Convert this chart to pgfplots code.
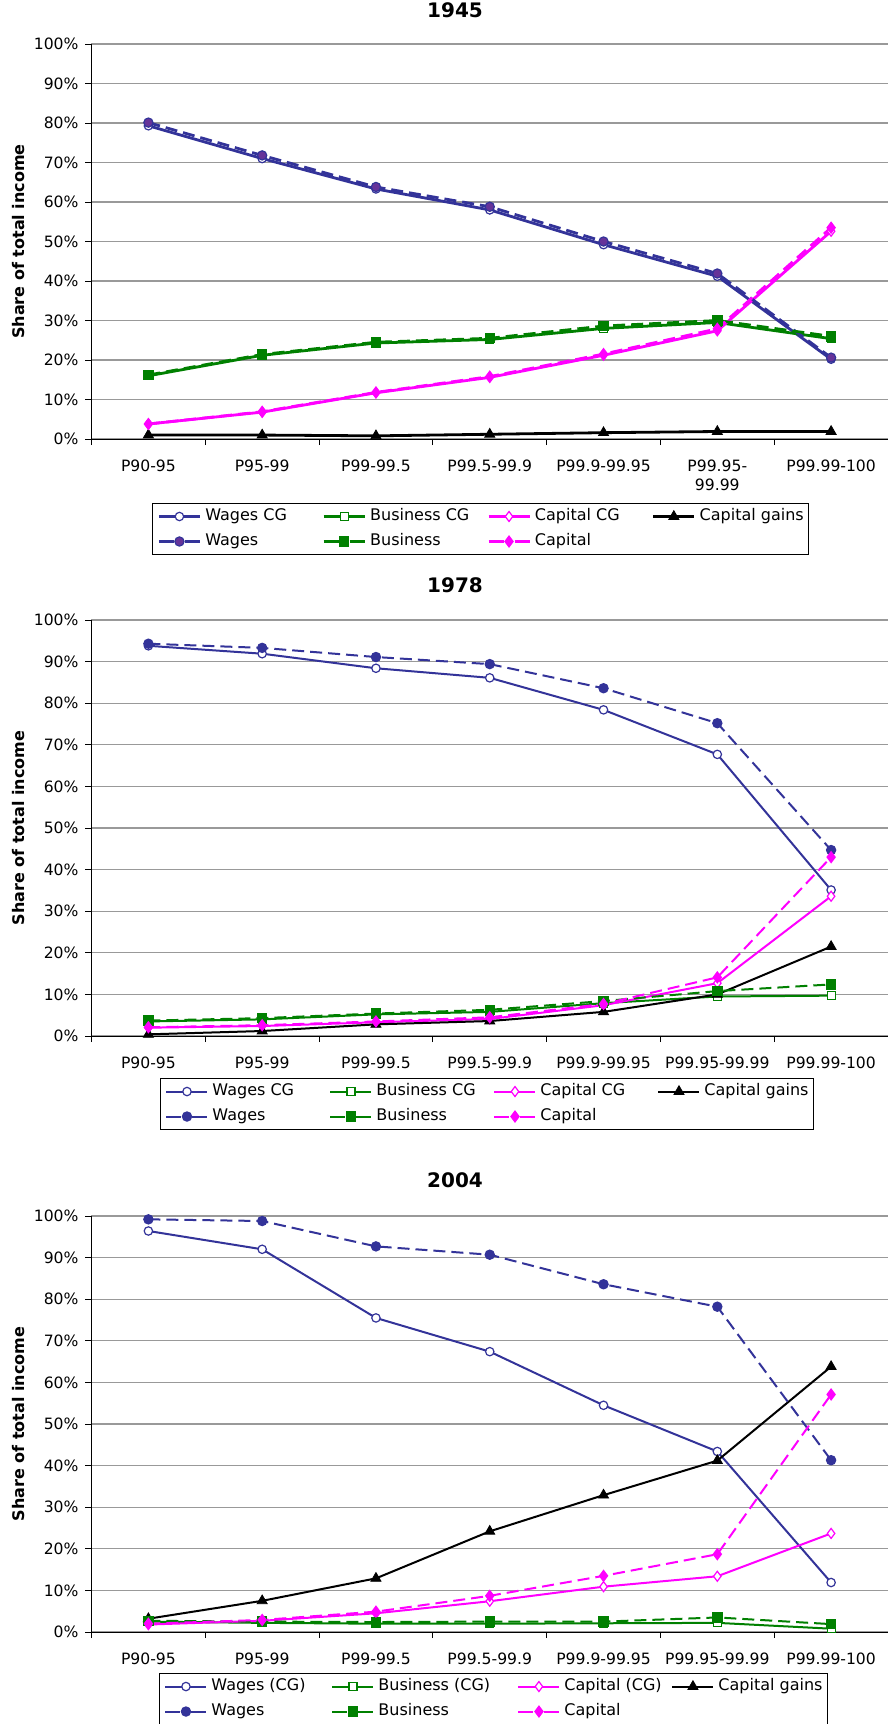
\documentclass[border=0pt]{standalone}
\usepackage{fontspec}
\setmainfont{DejaVu Sans}
\usepackage{pgfplots}
\pgfplotsset{compat=1.18}
\definecolor{wcol}{HTML}{333399}
\definecolor{wfillA}{HTML}{663399}
\definecolor{bcol}{HTML}{008000}
\definecolor{ccol}{HTML}{FF00FF}
\newcommand{\lw}{1.4pt}
\newcommand{\wfill}{wfillA}
\pgfplotsset{
 myaxis/.style={
  scale only axis, width=398.25pt, anchor=south west,
  xmin=-0.5, xmax=6.5, ymin=0, ymax=100,
  axis x line*=bottom, axis y line*=left,
  axis line style={black, line width=0.5pt, -},
  xtick={0,...,6}, minor xtick={-0.5,0.5,...,6.5},
  ytick={0,10,...,100},
  yticklabels={0\%,10\%,20\%,30\%,40\%,50\%,60\%,70\%,80\%,90\%,100\%},
  tick align=outside,
  major tick length=3pt, minor tick length=3pt,
  major x tick style={draw=none},
  tick style={black, line width=0.5pt},
  ymajorgrids, grid style={black!40, line width=0.6pt},
  tick label style={font=\fontsize{7.8pt}{9.4pt}\selectfont, black},
  xticklabel style={align=center, yshift=-4pt},
  ylabel={Share of total income},
  ylabel style={font=\bfseries\fontsize{8pt}{9.5pt}\selectfont, at={(axis description cs:-0.091,0.5)}, anchor=center},
  title style={font=\bfseries\fontsize{10pt}{12pt}\selectfont, at={(axis description cs:0.4564,1)}, anchor=center, yshift=11pt},
  clip=false,
  legend columns=4,
  legend cell align=left,
  legend style={draw=black, line width=0.5pt, font=\fontsize{8pt}{10pt}\selectfont, anchor=north west,
    inner xsep=2.5pt, inner ysep=2.5pt,
    nodes={inner sep=0pt, text height=6.2pt, text depth=1.8pt},
    row sep=4.5pt,
    /tikz/every odd column/.style={column sep=2pt},
    /tikz/every even column/.style={column sep=0pt}},
  legend image code/.code={\draw[mark repeat=2,mark phase=2,##1] plot coordinates {(0pt,0pt) (10.25pt,0pt) (20.5pt,0pt)};},
 },
 dashleg/.style={legend image code/.code={\draw[mark repeat=2,mark phase=2,##1, dash pattern=on 7.5pt off 5.5pt] plot coordinates {(0pt,0pt) (10.25pt,0pt) (20.5pt,0pt)};}},
 wcg/.style={color=wcol, solid, line width=\lw, mark=*, mark size=2.1pt, mark options={solid, fill=white, draw=wcol, line width=0.6pt}},
 wg/.style={color=wcol, line width=\lw, dash pattern=on 6pt off 3pt, mark=*, mark size=2.3pt, mark options={solid, fill=\wfill, draw=wcol, line width=0.6pt}, dashleg},
 bcg/.style={color=bcol, solid, line width=\lw, mark=square*, mark size=2pt, mark options={solid, fill=white, draw=bcol, line width=0.6pt}},
 bg/.style={color=bcol, line width=\lw, dash pattern=on 6pt off 3pt, mark=square*, mark size=2.3pt, mark options={solid, fill=bcol, draw=bcol, line width=0.6pt}, dashleg},
 ccg/.style={color=ccol, solid, line width=\lw, mark=diamond*, mark size=2.5pt, mark options={solid, fill=white, draw=ccol, line width=0.6pt}},
 cg/.style={color=ccol, line width=\lw, dash pattern=on 6pt off 3pt, mark=diamond*, mark size=2.7pt, mark options={solid, fill=ccol, draw=ccol, line width=0.6pt}, dashleg},
 gains/.style={color=black, solid, line width=\lw, mark=triangle*, mark size=2.9pt, mark options={solid, fill=black, draw=black, line width=0.4pt}},
}
\begin{document}
\begin{tikzpicture}
\useasboundingbox (0,0) rectangle (444pt,-862pt);
% ---------------- 1945 ----------------
\begin{axis}[myaxis, at={(45.75pt,-219.5pt)}, height=197.5pt, title={1945},
  xticklabels={P90-95,P95-99,P99-99.5,P99.5-99.9,P99.9-99.95,{P99.95-\\99.99},P99.99-100},
  legend style={at={(0.076,-0.162)}}]
\addplot[wcg] coordinates {(0,79.3) (1,71.0) (2,63.3) (3,58.0) (4,49.2) (5,41.2) (6,20.2)};
\addlegendentry{\makebox[58.5pt][l]{Wages CG}}
\addplot[bcg] coordinates {(0,16.0) (1,21.2) (2,24.3) (3,25.2) (4,28.0) (5,29.5) (6,25.4)};
\addlegendentry{\makebox[58.5pt][l]{Business CG}}
\addplot[ccg] coordinates {(0,3.8) (1,6.8) (2,11.7) (3,15.6) (4,21.2) (5,27.4) (6,52.6)};
\addlegendentry{\makebox[58.5pt][l]{Capital CG}}
\addplot[gains] coordinates {(0,1.0) (1,1.0) (2,0.8) (3,1.2) (4,1.6) (5,1.9) (6,1.9)};
\addlegendentry{Capital gains}
\addplot[wg] coordinates {(0,80.1) (1,71.8) (2,63.8) (3,58.8) (4,50.0) (5,41.9) (6,20.6)};
\addlegendentry{Wages}
\addplot[bg] coordinates {(0,16.2) (1,21.4) (2,24.5) (3,25.5) (4,28.6) (5,30.0) (6,26.0)};
\addlegendentry{Business}
\addplot[cg] coordinates {(0,3.8) (1,6.9) (2,11.8) (3,15.8) (4,21.5) (5,27.9) (6,53.5)};
\addlegendentry{Capital}
\end{axis}
% ---------------- 1978 ----------------
\renewcommand{\lw}{1pt}
\renewcommand{\wfill}{wcol}
\begin{axis}[myaxis, at={(45.75pt,-518pt)}, height=208pt, title={1978},
  title style={yshift=0.5pt},
  xticklabels={P90-95,P95-99,P99-99.5,P99.5-99.9,P99.9-99.95,P99.95-99.99,P99.99-100},
  legend style={at={(0.086,-0.101)}}]
\addplot[wcg] coordinates {(0,93.8) (1,91.9) (2,88.4) (3,86.1) (4,78.4) (5,67.7) (6,35.1)};
\addlegendentry{\makebox[58.5pt][l]{Wages CG}}
\addplot[bcg] coordinates {(0,3.5) (1,4.0) (2,5.2) (3,5.8) (4,7.9) (5,9.5) (6,9.7)};
\addlegendentry{\makebox[58.5pt][l]{Business CG}}
\addplot[ccg] coordinates {(0,2.0) (1,2.4) (2,3.3) (3,4.1) (4,7.4) (5,12.7) (6,33.6)};
\addlegendentry{\makebox[58.5pt][l]{Capital CG}}
\addplot[gains] coordinates {(0,0.4) (1,1.2) (2,2.8) (3,3.6) (4,5.8) (5,10.0) (6,21.5)};
\addlegendentry{Capital gains}
\addplot[wg] coordinates {(0,94.3) (1,93.3) (2,91.1) (3,89.4) (4,83.6) (5,75.2) (6,44.7)};
\addlegendentry{Wages}
\addplot[bg] coordinates {(0,3.7) (1,4.3) (2,5.4) (3,6.3) (4,8.4) (5,10.8) (6,12.4)};
\addlegendentry{Business}
\addplot[cg] coordinates {(0,2.1) (1,2.6) (2,3.5) (3,4.5) (4,7.7) (5,14.1) (6,43.0)};
\addlegendentry{Capital}
\end{axis}
% ---------------- 2004 ----------------
\begin{axis}[myaxis, at={(45.75pt,-816pt)}, height=208pt, title={2004},
  title style={yshift=1pt},
  xticklabels={P90-95,P95-99,P99-99.5,P99.5-99.9,P99.9-99.95,P99.95-99.99,P99.99-100},
  legend style={at={(0.0847,-0.0986)}}]
\addplot[wcg] coordinates {(0,96.4) (1,92.0) (2,75.5) (3,67.4) (4,54.5) (5,43.4) (6,11.9)};
\addlegendentry{\makebox[60pt][l]{Wages (CG)}}
\addplot[bcg] coordinates {(0,2.5) (1,2.2) (2,2.0) (3,2.0) (4,2.1) (5,2.2) (6,0.8)};
\addlegendentry{\makebox[69.5pt][l]{Business (CG)}}
\addplot[ccg] coordinates {(0,1.8) (1,2.7) (2,4.5) (3,7.4) (4,10.9) (5,13.4) (6,23.7)};
\addlegendentry{\makebox[53.5pt][l]{Capital (CG)}}
\addplot[gains] coordinates {(0,3.2) (1,7.5) (2,12.9) (3,24.2) (4,32.9) (5,41.2) (6,63.8)};
\addlegendentry{Capital gains}
\addplot[wg] coordinates {(0,99.2) (1,98.8) (2,92.7) (3,90.7) (4,83.6) (5,78.2) (6,41.3)};
\addlegendentry{Wages}
\addplot[bg] coordinates {(0,2.7) (1,2.5) (2,2.4) (3,2.5) (4,2.5) (5,3.5) (6,1.9)};
\addlegendentry{Business}
\addplot[cg] coordinates {(0,2.0) (1,2.9) (2,4.9) (3,8.7) (4,13.5) (5,18.7) (6,57.1)};
\addlegendentry{Capital}
\end{axis}
\end{tikzpicture}
\end{document}
